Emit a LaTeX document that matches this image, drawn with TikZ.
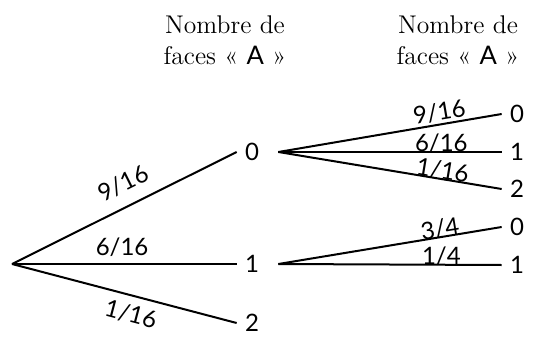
\documentclass[tikz,border=0pt]{standalone}
\usepackage{fontspec}
\newfontfamily\numfont{Lato}
\begin{document}
\begin{tikzpicture}[x=0.5pt,y=-0.5pt,
  hdr/.style={align=center,font=\fontsize{12.8}{15.5}\selectfont},
  lvl/.style={font=\numfont\fontsize{12}{14}\selectfont,inner xsep=4pt,inner ysep=0pt},
  prob/.style={font=\numfont\fontsize{12}{14}\selectfont,inner sep=1pt},
  probc/.style={font=\numfont\fontsize{12}{14}\selectfont,inner sep=0pt},
  br/.style={line width=1pt}]
\useasboundingbox (0,0) rectangle (560,336);
\node[hdr] (h1) at (225,40) {Nombre de\\faces « {\numfont A} »};
\node[hdr] (h2) at (458,40) {Nombre de\\faces « {\numfont A} »};
\coordinate (r) at (12,264);
\node[lvl] (a0) at (252,152) {0};
\node[lvl] (a1) at (252,264) {1};
\node[lvl] (a2) at (252,323) {2};
\node[lvl] (b00) at (517,114) {0};
\node[lvl] (b01) at (517,152) {1};
\node[lvl] (b02) at (517,189) {2};
\node[lvl] (b10) at (517,227) {0};
\node[lvl] (b11) at (517,265) {1};
\draw[br] (r) -- node[prob,sloped,above=5pt,pos=0.54] {9/16} (a0.west);
\draw[br] (r) -- node[prob,above=2pt,pos=0.49] {6/16} (a1.west);
\draw[br] (r) -- node[prob,sloped,below=3pt,pos=0.55] {1/16} (a2.west);
\draw[br] ([xshift=5.5pt]a0.east) -- node[probc,sloped,above=1pt,pos=0.73] {9/16} (b00.west);
\draw[br] ([xshift=5.5pt]a0.east) -- node[probc,above=-1pt,pos=0.73] {6/16} (b01.west);
\draw[br] ([xshift=5.5pt]a0.east) -- node[probc,sloped,above=-1pt,pos=0.73] {1/16} (b02.west);
\draw[br] ([xshift=5.5pt]a1.east) -- node[probc,sloped,above=-1pt,pos=0.73] {3/4} (b10.west);
\draw[br] ([xshift=5.5pt]a1.east) -- node[probc,above=-1pt,pos=0.73] {1/4} (b11.west);
\end{tikzpicture}
\end{document}
